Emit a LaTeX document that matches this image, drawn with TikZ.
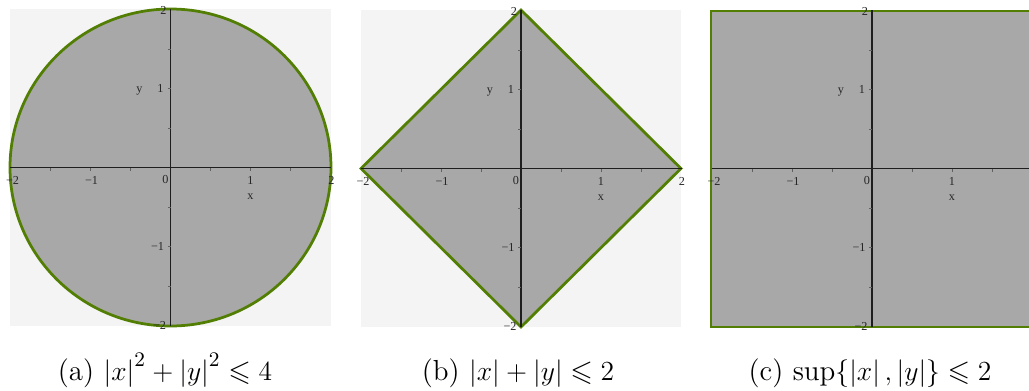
\documentclass[tikz,border=0pt]{standalone}
\usepackage{amsmath,amssymb}
\usepackage{fontspec}
\newfontfamily\lab{Liberation Serif}
\definecolor{plotbg}{RGB}{244,244,244}
\definecolor{regfill}{RGB}{168,168,168}
\definecolor{edgegreen}{RGB}{82,126,4}
\definecolor{axiscol}{RGB}{30,30,30}
\tikzset{
  bgrect/.style={fill=plotbg,draw=none},
  region/.style={fill=regfill,draw=edgegreen,line width=1.2pt,line join=miter},
  axisline/.style={draw=axiscol,line width=0.45pt},
  tickmark/.style={draw=axiscol!70,line width=0.35pt},
  ticklab/.style={font=\lab\fontsize{5.3}{6}\selectfont,inner sep=0pt,text=black!85},
  captext/.style={font=\fontsize{12.6}{15}\selectfont,inner sep=0pt,anchor=base}
}
\newcommand{\axesat}[4]{% #1 = ox, #2 = oy, #3 = prefix, #4 = show right label (1/0)
  \draw[axisline] (#1-160.5,#2) -- (#1+160.5,#2);
  \draw[axisline] (#1,#2-158.5) -- (#1,#2+158.5);
  \foreach \k in {-1.5,-1,-0.5,0.5,1,1.5}{
    \draw[tickmark] (#1+\k*80,#2) -- (#1+\k*80,#2+3);
    \draw[tickmark] (#1,#2+\k*79) -- (#1-3,#2+\k*79);
  }
  \node[ticklab] (#3xm2) at (#1-158,#2+13) {−2};
  \node[ticklab] (#3xm1) at (#1-79,#2+13) {−1};
  \node[ticklab] (#3x0)  at (#1-5,#2+12) {0};
  \node[ticklab] (#3x1)  at (#1+80,#2+13) {1};
  \ifnum#4=1 \node[ticklab] (#3x2)  at (#1+161,#2+13) {2};\fi
  \node[ticklab] (#3xl)  at (#1+80,#2+29) {x};
  \node[ticklab] (#3y2)  at (#1-7,#2-157) {2};
  \node[ticklab] (#3y1)  at (#1-10,#2-79) {1};
  \node[ticklab] (#3ym1) at (#1-13,#2+79) {−1};
  \node[ticklab] (#3ym2) at (#1-11,#2+158) {−2};
  \node[ticklab] (#3yl)  at (#1-31,#2-76) {y};
}
\begin{document}
\begin{tikzpicture}[x=0.4348pt,y=-0.4348pt]
\useasboundingbox (0,0) rectangle (1029,390);
\clip (0,0) rectangle (1029,390);
% panel (a)
\fill[bgrect] (10,9) rectangle (331,326);
\draw[region] (170.5,167.5) ellipse [x radius=160.5,y radius=158.5];
\axesat{170.5}{167.5}{a}{1}
% panel (b)
\fill[bgrect] (361,10) rectangle (681,327);
\draw[region] (361,168.5) -- (521,10) -- (681,168.5) -- (521,327) -- cycle;
\axesat{521}{168.5}{b}{1}
% panel (c)
\draw[region] (711,11) rectangle (1033,327);
\axesat{872}{168.5}{c}{0}
% captions
\node[captext] (capa) at (165,380) {(a) $\left|x\right|^2+\left|y\right|^2\leqslant 4$};
\node[captext] (capb) at (518,380) {(b) $\left|x\right|+\left|y\right|\leqslant 2$};
\node[captext] (capc) at (870,380) {(c) $\sup\{\left|x\right|,\left|y\right|\}\leqslant 2$};
\end{tikzpicture}
\end{document}
